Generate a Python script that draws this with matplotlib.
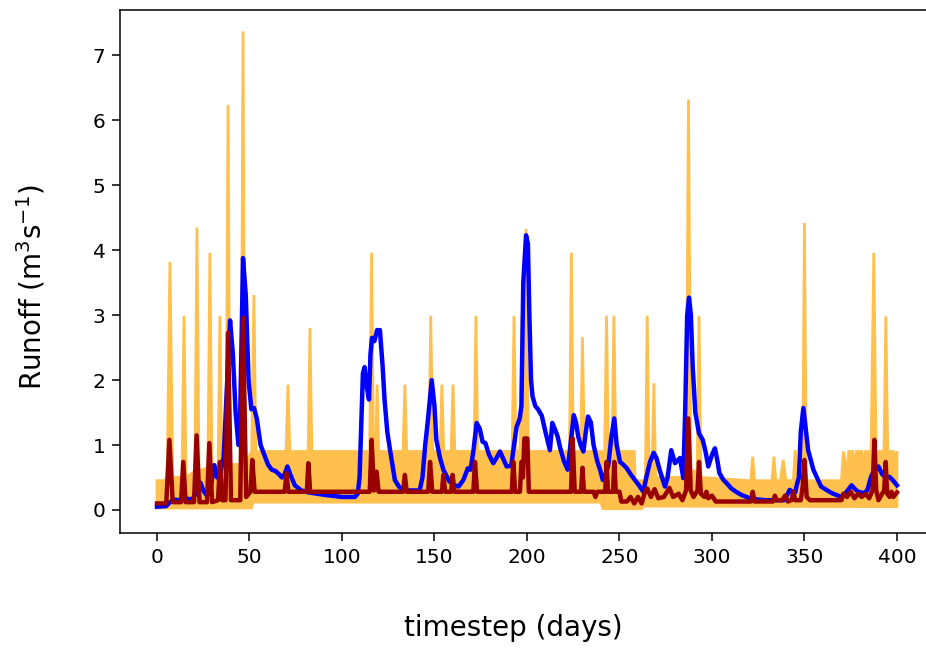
import numpy as np
import matplotlib
matplotlib.use("Agg")
import matplotlib.pyplot as plt

# ---------------- data ----------------
band_upper_days = [0, 4, 5.5, 7, 8.5, 13.5, 14.6, 15.7, 20.5, 21.6, 22.7, 27.5, 28.6, 29.7,
                   33, 34, 35, 37.4, 38.4, 39.4, 45.5, 46.5, 47.5, 51.2, 52.4, 53.4,
                   69.8, 70.8, 71.8, 81.7, 82.7, 83.7, 115, 116, 117, 118.2, 119, 119.8,
                   133, 134, 135, 147, 148, 149, 153, 154, 155, 159, 160, 161,
                   171.4, 172.4, 173.4, 192, 193, 194, 196.3, 197.3, 198.3, 199.5, 200.7,
                   223, 224, 225, 229, 230, 231, 242, 243, 244, 246, 247, 248,
                   258, 258.5, 264, 265, 266, 267.6, 268.6, 269.6, 286, 287.3, 288.6,
                   292, 293, 294, 321, 322, 323, 332.5, 333.5, 334.5, 337, 338.5, 340,
                   344, 345, 346, 349, 350, 351, 370, 371, 373, 374, 376, 377, 378,
                   381, 382, 383, 386, 387.5, 388.7, 393, 394, 395, 398, 399, 400]
band_upper = [0.45, 0.45, 0.5, 3.82, 0.5, 0.5, 2.99, 0.5, 0.6, 4.35, 0.6, 0.65, 3.96, 0.65,
              0.65, 2.99, 0.65, 0.7, 6.24, 0.7, 0.7, 7.37, 0.7, 0.9, 3.31, 0.9,
              0.9, 1.93, 0.9, 0.9, 2.80, 0.9, 0.9, 3.96, 0.9, 0.9, 1.93, 0.9,
              0.9, 1.93, 0.9, 0.9, 2.99, 0.9, 0.9, 1.93, 0.9, 0.9, 1.93, 0.9,
              0.9, 2.99, 0.9, 0.9, 2.99, 0.9, 0.9, 2.99, 1.5, 4.33, 0.9,
              0.9, 3.96, 0.9, 0.9, 2.66, 0.9, 0.9, 2.99, 0.9, 0.9, 2.99, 0.9,
              0.9, 0.45, 0.45, 2.99, 0.6, 0.6, 1.95, 0.5, 0.5, 6.32, 0.6,
              0.6, 2.99, 0.5, 0.45, 0.82, 0.45, 0.45, 0.82, 0.45, 0.45, 0.77, 0.45,
              0.45, 0.92, 0.45, 0.45, 4.42, 0.45, 0.45, 0.9, 0.6, 0.9, 0.9, 0.65, 0.9,
              0.9, 0.7, 0.9, 0.9, 3.96, 0.9, 0.9, 2.98, 0.9, 0.9, 0.7, 0.9]

band_lower_days = [0, 51, 52, 240, 241, 262, 263, 400]
band_lower = [0.03, 0.03, 0.12, 0.12, 0.02, 0.02, 0.06, 0.05]

blue_days = [0, 5, 7, 9, 12, 15, 19, 22, 23.5, 25, 27, 29, 31, 32.5, 34, 36, 38, 39.5, 41,
             42.5, 44, 45, 46.5, 48, 49.5, 51, 52.5, 54, 56, 58, 60, 62, 64, 66, 67.5, 69,
             70.5, 72, 74.5, 78, 82, 91, 100, 107, 108.5, 109.5, 110.5, 111.3, 112.2, 113.4,
             114.6, 115.4, 116.2, 117.5, 119, 120.5, 122, 123, 124.5, 126, 128.6, 131, 134,
             137, 142, 143.5, 145, 146.5, 148.5, 150, 151, 153, 154.8, 158, 161, 163, 165.6,
             168, 169.5, 171, 172.8, 174.5, 176, 177.5, 179.5, 181.8, 183.5, 185.4, 187, 189,
             191.5, 193, 194.4, 196, 197, 198, 199.5, 200.5, 201.3, 202.2, 203, 204.5, 206,
             208, 210, 212.4, 213.7, 215, 216.5, 218, 220, 222, 223.5, 225.3, 226.5, 227.7,
             229, 230.5, 231.8, 233, 234.5, 236, 238, 239.5, 241, 242.5, 244, 245.5, 247.2,
             248.5, 250.3, 252, 254, 256, 258.4, 260.5, 262.9, 264.5, 266.5, 268.5, 270, 272,
             274.6, 276, 278, 280, 282.7, 284.5, 285.5, 286.6, 287.6, 288.6, 289.6, 291, 293,
             295, 296.5, 298, 300, 301.6, 303, 304, 306, 308, 310.5, 313, 316, 320.5, 325,
             329.5, 334, 339, 341, 342, 343.5, 345, 346, 347, 348, 349.4, 350.5, 352, 354.8,
             359, 364.7, 370, 372, 375.5, 377, 379, 382, 384, 386, 387.5, 390, 392, 393.5,
             396, 398, 400]
blue_runoff = [0.05, 0.06, 0.12, 0.16, 0.15, 0.18, 0.16, 0.3, 0.42, 0.3, 0.22, 0.35, 0.69, 0.5,
               0.55, 0.8, 2.0, 2.92, 2.4, 1.5, 1.0, 1.5, 3.88, 3.3, 2.0, 1.55, 1.57, 1.4, 1.0,
               0.85, 0.7, 0.62, 0.6, 0.55, 0.5, 0.55, 0.67, 0.55, 0.38, 0.3, 0.27, 0.23, 0.2,
               0.2, 0.25, 0.5, 1.4, 2.1, 2.2, 1.9, 1.7, 2.4, 2.65, 2.6, 2.77, 2.77, 2.2, 1.7,
               1.2, 0.92, 0.46, 0.35, 0.3, 0.3, 0.3, 0.5, 1.0, 1.4, 2.0, 1.6, 1.08, 0.8, 0.62,
               0.44, 0.38, 0.36, 0.46, 0.64, 0.62, 0.9, 1.34, 1.25, 1.05, 1.03, 0.85, 0.72,
               0.8, 0.9, 0.8, 0.67, 0.68, 1.0, 1.28, 1.4, 1.6, 3.5, 4.23, 4.1, 3.0, 2.0, 1.75,
               1.6, 1.55, 1.45, 1.2, 0.92, 1.34, 1.25, 1.14, 0.95, 0.75, 0.62, 1.0, 1.46, 1.35,
               1.13, 1.0, 0.9, 1.2, 1.44, 1.35, 1.0, 0.75, 0.62, 0.46, 0.55, 0.69, 1.1, 1.41,
               1.0, 0.74, 0.7, 0.64, 0.55, 0.46, 0.38, 0.28, 0.5, 0.74, 0.88, 0.8, 0.59, 0.36,
               0.5, 0.92, 0.72, 0.8, 0.49, 1.5, 3.0, 3.27, 3.0, 2.2, 1.5, 1.18, 1.08, 0.9,
               0.67, 0.85, 0.95, 0.75, 0.57, 0.47, 0.41, 0.33, 0.28, 0.23, 0.18, 0.16, 0.15,
               0.15, 0.15, 0.25, 0.31, 0.28, 0.27, 0.4, 0.5, 1.2, 1.57, 1.3, 0.92, 0.62, 0.36,
               0.26, 0.2, 0.25, 0.38, 0.33, 0.28, 0.26, 0.3, 0.51, 0.6, 0.67, 0.55, 0.51, 0.51,
               0.45, 0.38]

red_days = [0, 5, 6.7, 8.5, 13, 14.2, 15.5, 20, 21.4, 23, 27, 28.3, 29.8, 33, 34, 35.2, 37,
            38.4, 40, 45, 46.5, 48.2, 50.5, 51.5, 52.8, 69, 70, 71, 81, 81.8, 82.8, 115, 116,
            117.3, 118.7, 119.8, 133, 134, 135, 146.6, 147.6, 148.8, 154, 154.8, 155.8, 159,
            159.8, 160.8, 171, 171.9, 173, 191.8, 192.6, 193.6, 196.2, 197, 197.8, 198.6,
            200.2, 201, 223.8, 224.7, 225.8, 229.2, 230, 230.8, 236, 237, 238, 242.3, 243,
            243.8, 246.5, 247.2, 248, 250, 251, 254, 256, 258, 260, 262, 264, 265, 267, 269,
            271, 274, 277, 279, 282, 284, 286, 287.2, 288.5, 290, 292.2, 293, 294, 296, 297,
            298, 300, 302, 321, 322, 323, 333, 334, 335, 338, 339.5, 341, 343, 344, 345, 348,
            349, 350, 351.2, 353, 370, 371, 373, 375, 377, 379, 381, 383, 385, 386.8, 387.8,
            388.8, 390, 392, 393.1, 393.9, 394.7, 396, 397, 398, 400]
red_runoff = [0.1, 0.1, 1.08, 0.12, 0.12, 0.74, 0.12, 0.12, 1.15, 0.12, 0.12, 1.03, 0.12, 0.15,
              0.74, 0.15, 0.15, 2.73, 0.15, 0.15, 2.96, 0.2, 0.28, 0.77, 0.28, 0.28, 0.57,
              0.28, 0.28, 0.72, 0.28, 0.28, 1.08, 0.3, 0.59, 0.28, 0.28, 0.54, 0.28, 0.28,
              0.74, 0.28, 0.28, 0.54, 0.28, 0.28, 0.54, 0.28, 0.28, 0.74, 0.28, 0.28, 0.74,
              0.28, 0.28, 0.74, 0.5, 1.1, 1.1, 0.28, 0.28, 1.1, 0.28, 0.28, 0.65, 0.28, 0.28,
              0.2, 0.28, 0.28, 0.74, 0.28, 0.28, 0.74, 0.28, 0.28, 0.13, 0.13, 0.2, 0.1, 0.2,
              0.1, 0.3, 0.33, 0.2, 0.32, 0.18, 0.2, 0.34, 0.2, 0.25, 0.15, 0.3, 1.41, 0.3,
              0.2, 0.3, 0.74, 0.25, 0.2, 0.28, 0.18, 0.22, 0.13, 0.13, 0.28, 0.13, 0.13, 0.22,
              0.15, 0.15, 0.22, 0.13, 0.15, 0.28, 0.15, 0.15, 0.35, 0.77, 0.2, 0.15, 0.15,
              0.25, 0.2, 0.28, 0.18, 0.25, 0.2, 0.25, 0.18, 0.3, 1.08, 0.3, 0.15, 0.25, 0.3,
              0.74, 0.25, 0.2, 0.28, 0.2, 0.27]

x_ticks = [0, 50, 100, 150, 200, 250, 300, 350, 400]
y_ticks = [0, 1, 2, 3, 4, 5, 6, 7]

# ---------------- figure ----------------
plt.rcParams['font.family'] = ['DejaVu Sans']
fig = plt.figure(figsize=(9.26, 6.48), dpi=100)
# the axes run off the right edge of the picture, as in the reference
ax = fig.add_axes([120 / 926, 115 / 648, 806 / 926, 523 / 648])

poly_x = np.concatenate([band_upper_days, band_lower_days[::-1]])
poly_y = np.concatenate([band_upper, band_lower[::-1]])
ax.fill(poly_x, poly_y, facecolor='#FFC04D', edgecolor='#FFC04D', linewidth=2.0,
        joinstyle='miter', zorder=1)

ax.plot(blue_days, blue_runoff, color='#0000FF', linewidth=3.2, zorder=2)
ax.plot(red_days, red_runoff, color='#990000', linewidth=3.2, zorder=3)

ax.set_xlim(-20, 415.7)
ax.set_ylim(-0.355, 7.70)
ax.set_xticks(x_ticks)
ax.set_yticks(y_ticks)
ax.tick_params(labelsize=14.5, length=5.5, width=1.1, pad=5)
for s in ax.spines.values():
    s.set_linewidth(1.1)
ax.spines['right'].set_visible(False)

ax.set_xlabel('timestep (days)', fontsize=20)
ax.set_ylabel('Runoff (m$^3$s$^{-1}$)', fontsize=20)
ax.xaxis.set_label_coords((513 - 120) / 806, (533 - 628) / 523)
ax.xaxis.label.set_verticalalignment('center')
ax.yaxis.set_label_coords((31 - 120) / 806, (533 - 287) / 523)
ax.yaxis.label.set_verticalalignment('center')

fig.savefig('out.png', dpi=100)
